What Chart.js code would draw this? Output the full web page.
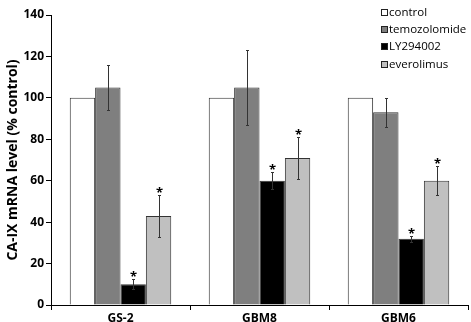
<!DOCTYPE html>
<html>
<head>
<meta charset="utf-8">
<script src="https://cdn.jsdelivr.net/npm/chart.js@4"></script>
<style>
  html, body { margin: 0; padding: 0; background: #fff; }
  #wrap { width: 471px; height: 322px; }
</style>
</head>
<body>
<div id="wrap"><canvas id="chart"></canvas></div>
<script>
const cellLines = ['GS-2', 'GBM8', 'GBM6'];
const treatments = ['control', 'temozolomide', 'LY294002', 'everolimus'];

const control      = [100, 100, 100];
const temozolomide = [105, 105, 93];
const ly294002     = [10, 60, 32];
const everolimus   = [43, 71, 60];

const controlErr      = [0, 0, 0];
const temozolomideErr = [11, 18, 7];
const ly294002Err     = [2.5, 4, 1.5];
const everolimusErr   = [10, 10, 7];

// which bars get a significance star
const starred = [
  [false, false, false],
  [false, false, false],
  [true, true, true],
  [true, true, true]
];

const yTicks = [0, 20, 40, 60, 80, 100, 120, 140];

const fills = ['#ffffff', '#7f7f7f', '#000000', '#c0c0c0'];
const series = [control, temozolomide, ly294002, everolimus];
const errors = [controlErr, temozolomideErr, ly294002Err, everolimusErr];

const font = "'Open Sans', 'Liberation Sans', sans-serif";

// error bars, stars and the floating legend
const extras = {
  id: 'extras',
  afterDatasetsDraw(chart) {
    let ctx = chart.ctx, y = chart.scales.y;
    ctx.save();
    chart.data.datasets.forEach((ds, i) => {
      chart.getDatasetMeta(i).data.forEach((bar, j) => {
        let err = errors[i][j];
        let x = Math.round(bar.x);
        let top = Math.round(y.getPixelForValue(ds.data[j] + err));
        if (err > 0) {
          let bot = Math.round(y.getPixelForValue(ds.data[j] - err));
          ctx.strokeStyle = '#333';
          ctx.lineWidth = 1;
          ctx.beginPath();
          ctx.moveTo(x + 0.5, top); ctx.lineTo(x + 0.5, bot);
          ctx.moveTo(x - 1, top + 0.5); ctx.lineTo(x + 2, top + 0.5);
          ctx.moveTo(x - 1, bot + 0.5); ctx.lineTo(x + 2, bot + 0.5);
          ctx.stroke();
        }
        if (starred[i][j]) {
          ctx.fillStyle = '#000';
          ctx.font = 'bold 13px ' + font;
          ctx.textAlign = 'center';
          ctx.textBaseline = 'alphabetic';
          ctx.fillText('*', x + 0.5, top + 2);
        }
      });
    });

    // legend
    ctx.font = '11.5px ' + font;
    ctx.textAlign = 'left';
    ctx.textBaseline = 'middle';
    treatments.forEach((name, i) => {
      let ly = Math.round(13 + i * 17.2);
      ctx.fillStyle = fills[i];
      ctx.fillRect(381.5, ly - 3.5, 6, 6);
      ctx.strokeStyle = '#222';
      ctx.lineWidth = 1;
      ctx.strokeRect(381.5, ly - 3.5, 6, 6);
      ctx.fillStyle = '#000';
      ctx.fillText(name, 389, ly);
    });
    ctx.restore();
  }
};

let data = {
  labels: cellLines,
  datasets: treatments.map((name, i) => ({
    label: name,
    data: series[i],
    backgroundColor: fills[i],
    borderColor: '#333',
    borderWidth: 1,
    borderSkipped: 'bottom',
    categoryPercentage: 0.73,
    barPercentage: 1.0
  }))
};

let options = {
  responsive: true,
  maintainAspectRatio: false,
  animation: false,
  layout: { padding: { top: 15, right: 3, left: 0, bottom: 0 } },
  plugins: {
    legend: { display: false },
    tooltip: { enabled: false }
  },
  scales: {
    x: {
      offset: true,
      grid: {
        offset: true,
        drawOnChartArea: false,
        drawTicks: true,
        tickLength: 5,
        color: '#000'
      },
      border: { color: '#000', width: 1 },
      ticks: {
        color: '#000',
        padding: 1,
        font: { family: font, size: 12, weight: 'bold' }
      },
      afterFit: s => { s.height = 17; }
    },
    y: {
      min: 0,
      max: 140,
      afterBuildTicks: s => { s.ticks = yTicks.map(v => ({ value: v })); },
      grid: {
        drawOnChartArea: false,
        drawTicks: true,
        tickLength: 5,
        color: '#000'
      },
      border: { color: '#000', width: 1 },
      ticks: {
        color: '#000',
        padding: 2,
        font: { family: font, size: 12, weight: 'bold' }
      },
      title: {
        display: true,
        text: 'CA-IX mRNA level (% control)',
        color: '#000',
        padding: { top: 5, bottom: 0 },
        font: { family: font, size: 14, weight: 'bold' }
      },
      afterFit: s => { s.width = 51; }
    }
  }
};

new Chart('chart', { type: 'bar', plugins: [extras], data, options });
</script>
</body>
</html>
